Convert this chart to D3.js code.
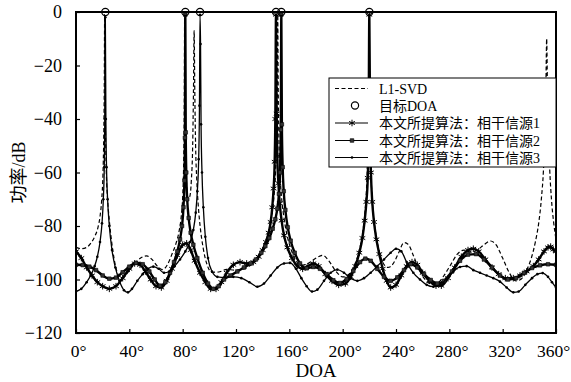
<!DOCTYPE html>
<html>
<head>
<meta charset="utf-8">
<script src="https://cdn.jsdelivr.net/npm/d3@7"></script>
<style>
  html, body { margin: 0; padding: 0; background: #fff; }
  svg { display: block; }
  text { font-family: "Liberation Serif", "Times New Roman", "Noto Sans CJK SC", serif; fill: #000; }
</style>
</head>
<body>
<svg id="chart" width="571" height="382"></svg>
<script>
// Spatial spectrum (dB) versus direction of arrival (degrees)
const xTicks = [0, 40, 80, 120, 160, 200, 240, 280, 320, 360];
const yTicks = [0, -20, -40, -60, -80, -100, -120];
const targetDoa = [22, 82, 93, 150, 154, 220];

const legendLabels = ["L1-SVD", "目标DOA", "本文所提算法：相干信源1", "本文所提算法：相干信源2", "本文所提算法：相干信源3"];

// L1-SVD spectrum [angle, dB]
const l1svd = [[0,-88],[4,-88.5],[8,-88],[11,-86.5],[14,-84],[16.5,-80.5],[18,-76.5],[19.3,-70],[20.2,-61],[20.8,-47],[21.2,-28],[21.5,-1],[21.8,-28],[22.2,-47],[22.8,-61],[23.7,-70],[25,-78],[26.5,-85],[28.5,-92],[31,-97.5],[34,-99.5],[37,-98.5],[41,-96],[45,-93.5],[49,-91.8],[53,-91.2],[57,-92.5],[61,-95],[65,-96.3],[68.5,-94.5],[72,-90.5],[75,-86.5],[77.3,-82],[79,-76],[80.1,-68],[80.8,-55],[81.2,-35],[81.5,-1],[81.8,-35],[82.2,-54],[82.9,-64],[84,-69.5],[85.3,-69],[86.5,-63],[87.5,-50],[88.1,-30],[88.6,-7],[89.1,-30],[89.7,-50],[90.6,-63],[91.8,-73],[93.3,-81],[95.3,-88],[98,-94],[102,-97.3],[107,-97.2],[113,-96.2],[119,-96.5],[125,-96.2],[130,-95],[135,-92.5],[139,-89.5],[142,-86],[144.5,-82],[146.6,-77],[148.3,-70],[149.6,-60],[150.5,-45],[151,-25],[151.3,-1],[151.6,-25],[152.1,-45],[153,-60],[154.3,-70],[156,-77],[158.3,-83.5],[161.5,-89],[165,-93],[169,-94.7],[174,-94],[179,-92.3],[185,-91],[190,-93.3],[195,-97],[200,-99],[204,-98.3],[207.5,-96],[210.5,-92.5],[213,-88],[215,-82.5],[216.6,-75.5],[217.9,-66],[218.8,-52],[219.4,-32],[219.8,-1],[220.2,-32],[220.8,-52],[221.7,-66],[223,-75.5],[224.7,-82.5],[227,-88.5],[230,-93.5],[234,-95.5],[238,-94],[242,-90],[246,-86.2],[249,-86.8],[253,-91],[257,-96],[261,-99.5],[266,-101.5],[271,-101.3],[276,-98.5],[281,-94.5],[286,-90.5],[291,-89],[296,-89.8],[301,-89],[306,-87],[311,-85.6],[315,-87],[320,-92],[325,-97.5],[330,-100.5],[334,-99.8],[338,-96.5],[341.5,-92],[344.5,-86],[347,-79],[349,-70],[350.6,-59],[351.7,-45],[352.5,-25],[353,-10],[353.5,-25],[354.3,-45],[355.3,-59],[356.6,-70],[358.2,-78.5],[360,-85]];

// Proposed method, coherent source group 1 [angle, dB]
const source1 = [[0,-89.5],[4,-92],[8,-95.5],[12,-98.5],[16,-101],[20,-102.5],[25,-103.5],[30,-102.5],[35,-99.5],[40,-96],[44,-94],[48,-94.5],[52,-97],[56,-100],[60,-102.5],[64,-103],[68,-100.5],[72,-96],[76,-91],[80,-87],[83,-86.5],[86,-89],[89,-93],[93,-97.5],[97,-101],[101,-103.5],[105,-103.5],[109,-101],[113,-97.5],[118,-94.5],[123,-93.5],[128,-94],[133,-93.5],[137,-91.5],[140,-89],[142.5,-86],[144.5,-82.5],[146,-78.5],[147.2,-73],[148.2,-66],[149,-56],[149.5,-40],[150,-1],[150.5,-38],[151,-54],[151.8,-64],[152.8,-71.5],[154.2,-78],[156,-83.5],[158.5,-88],[162,-92],[166,-95],[170,-96],[174,-95],[178,-94],[182,-95],[187,-98],[192,-100.5],[197,-102],[202,-101.5],[206,-99],[209.5,-95],[212.5,-90],[214.8,-84.5],[216.5,-78],[217.8,-71],[218.8,-62],[219.4,-48],[220,-1],[220.6,-45],[221.2,-60],[222.2,-71],[223.5,-78.5],[225.3,-85],[227.5,-90.5],[230,-96],[233,-100.5],[236,-103],[240,-102],[244,-98.5],[248,-95],[252,-93.5],[256,-94.5],[260,-97.5],[265,-100.5],[270,-102.3],[274,-102.3],[279,-99.5],[284,-95.5],[289,-91.5],[294,-89],[298,-88.5],[302,-89.5],[307,-92.5],[312,-95.5],[317,-98],[322,-99.5],[328,-99.5],[333,-98.5],[338,-97],[343,-95],[347,-92.5],[351,-89.5],[354,-88],[356,-87.7],[358,-88.8],[360,-89.5]];

// Proposed method, coherent source group 2 [angle, dB]
const source2 = [[0,-94.5],[5,-94.6],[10,-95.2],[15,-96.5],[20,-98.5],[25,-99.7],[30,-99.3],[35,-97.3],[40,-95.2],[45,-93.8],[50,-94.3],[55,-97],[59,-100],[63,-102.3],[67,-101],[70.5,-97.5],[73.5,-93.5],[76,-89.5],[78,-85],[79.5,-80],[80.6,-73],[81.3,-63],[81.7,-47],[82,-1],[82.3,-45],[82.7,-60],[83.4,-70],[84.5,-77],[86,-82.5],[88,-87],[91,-92],[95,-97.5],[99,-101.5],[103,-103.5],[107,-102.5],[111,-100],[116,-98.5],[121,-97],[126,-95.5],[131,-94],[135,-92.5],[139,-90],[142,-87.5],[145,-84.5],[147.5,-81],[149.5,-77.5],[151,-73.5],[152.2,-68],[153,-60],[153.6,-44],[154,-1],[154.4,-42],[155,-58],[155.8,-67],[157,-74],[158.8,-80.5],[161,-85.5],[164,-90],[168,-94],[173,-95.8],[178,-95.3],[183,-96],[188,-98],[193,-100.3],[198,-101.3],[203,-99.8],[208,-96.8],[213,-93.5],[217,-92.2],[221,-93],[226,-96],[231,-99],[236,-100.5],[241,-99.2],[246,-96.5],[251,-94.3],[256,-95.5],[261,-98],[266,-100.2],[271,-101.5],[276,-100.5],[282,-97],[288,-93],[294,-90.7],[300,-90.5],[306,-92.5],[312,-95.5],[318,-98.5],[324,-100],[330,-99.5],[336,-97.5],[342,-95.7],[348,-94.7],[354,-94.3],[360,-94.5]];

// Proposed method, coherent source group 3 [angle, dB]
const source3 = [[0,-104.5],[4,-103.5],[8,-101],[11,-98.5],[14,-95],[16,-91.5],[18,-86],[19.5,-79],[20.5,-70],[21.2,-58],[21.6,-40],[22,-2],[22.4,-40],[22.9,-58],[23.7,-70],[25,-80],[27,-89],[29.5,-95.5],[32.5,-100.5],[36,-104],[39,-104.8],[42,-103.5],[46,-100.5],[50,-98],[54,-96],[58,-95.2],[62,-96],[66,-97.5],[70,-97],[74,-95],[78,-92.5],[82,-89.5],[85.5,-86],[88,-81.5],[89.8,-75],[91,-67],[92,-55],[92.6,-35],[93,-1],[93.4,-12],[93.8,-42],[94.5,-60],[95.5,-73],[97,-84],[99,-92],[102,-97],[106,-99],[112,-99.2],[118,-99],[124,-99.5],[130,-101],[136,-102.7],[141,-101.5],[146,-98.5],[151,-95.5],[156,-94],[160.5,-93.8],[165,-96],[169,-99.5],[173,-102.5],[177,-104.5],[181,-103.8],[186,-100.5],[191,-97.5],[196,-96.3],[201,-97.5],[206,-99.5],[211,-100.5],[216,-99.5],[221,-97.5],[226,-95],[231,-92.5],[236,-90],[240,-88.5],[244,-89.5],[248,-93.5],[253,-97.5],[258,-100],[263,-102],[268,-102.7],[273,-102.2],[278,-99.5],[283,-97],[288,-95.3],[293,-95],[298,-96.5],[303,-97.5],[308,-98.5],[313,-99.5],[318,-100.8],[323,-103],[328,-104.8],[332,-104.5],[337,-102],[342,-99.5],[346,-98],[350,-97.6],[354,-99],[357,-101],[360,-103]];

const svg = d3.select("#chart");
const plot = { left: 76, right: 556, top: 12, bottom: 333 };

const x = d3.scaleLinear().domain([0, 360]).range([plot.left, plot.right]);
const y = d3.scaleLinear().domain([-120, 0]).range([plot.bottom, plot.top]);

svg.append("defs").append("clipPath").attr("id", "plotClip")
  .append("rect")
  .attr("x", plot.left).attr("y", plot.top - 6)
  .attr("width", plot.right - plot.left).attr("height", plot.bottom - plot.top + 6);

const line = d3.line().x(d => x(d[0])).y(d => y(d[1])).curve(d3.curveMonotoneX);

const layer = svg.append("g").attr("clip-path", "url(#plotClip)");

// L1-SVD dashed curve
layer.append("path").datum(l1svd)
  .attr("d", line).attr("fill", "none")
  .attr("stroke", "#000").attr("stroke-width", 1.2)
  .attr("stroke-dasharray", "4,2.5");

// proposed method curves with their markers
const starSym = d3.symbol().type(d3.symbolAsterisk).size(30);
const squareSym = d3.symbol().type(d3.symbolSquare).size(13);

function drawSeries(data, width, marker) {
  layer.append("path").datum(data)
    .attr("d", line).attr("fill", "none")
    .attr("stroke", "#000").attr("stroke-width", width)
    .attr("stroke-linejoin", "round");
  const g = layer.append("g");
  if (marker === "star") {
    g.selectAll("path").data(data).join("path")
      .attr("d", starSym)
      .attr("transform", d => `translate(${x(d[0])},${y(d[1])})`)
      .attr("fill", "none").attr("stroke", "#000").attr("stroke-width", 1);
  } else if (marker === "square") {
    g.selectAll("path").data(data).join("path")
      .attr("d", squareSym)
      .attr("transform", d => `translate(${x(d[0])},${y(d[1])})`)
      .attr("fill", "#333").attr("stroke", "#000").attr("stroke-width", 0.6);
  } else {
    g.selectAll("circle").data(data).join("circle")
      .attr("cx", d => x(d[0])).attr("cy", d => y(d[1])).attr("r", 1.3)
      .attr("fill", "#000");
  }
}
drawSeries(source1, 2.4, "star");
drawSeries(source2, 2.4, "square");
drawSeries(source3, 1.3, "dot");

// axes (ticks point inward)
const xAxis = d3.axisBottom(x).tickValues(xTicks).tickSize(-4).tickPadding(12)
  .tickFormat(d => d + "°");
const gx = svg.append("g").attr("transform", `translate(0,${plot.bottom})`).call(xAxis);
gx.select(".domain").remove();
gx.selectAll("line").attr("stroke", "#000").attr("stroke-width", 1.2);
gx.selectAll("text").attr("font-size", 17.5)
  .attr("dx", d => d === 360 ? -3 : 2)
  .style("font-family", '"Liberation Serif", "Times New Roman", serif');

const yAxis = d3.axisLeft(y).tickValues(yTicks).tickSize(-4).tickPadding(14)
  .tickFormat(d => d < 0 ? "\u2212" + Math.abs(d) : String(d));
const gy = svg.append("g").attr("transform", `translate(${plot.left},0)`).call(yAxis);
gy.select(".domain").remove();
gy.selectAll("line").attr("stroke", "#000").attr("stroke-width", 1.2);
gy.selectAll("text").attr("font-size", 18)
  .style("font-family", '"Liberation Serif", "Times New Roman", serif');

// frame
svg.append("rect")
  .attr("x", plot.left).attr("y", plot.top)
  .attr("width", plot.right - plot.left).attr("height", plot.bottom - plot.top)
  .attr("fill", "none").attr("stroke", "#000").attr("stroke-width", 2);

// target directions on the 0 dB line
svg.append("g").selectAll("circle").data(targetDoa).join("circle")
  .attr("cx", d => x(d)).attr("cy", y(0)).attr("r", 3.6)
  .attr("fill", "none").attr("stroke", "#000").attr("stroke-width", 1.2);

// axis titles
svg.append("text")
  .attr("x", (plot.left + plot.right) / 2).attr("y", 377)
  .attr("text-anchor", "middle").attr("font-size", 19)
  .text("DOA");

svg.append("text")
  .attr("transform", `translate(25,${(plot.top + plot.bottom) / 2}) rotate(-90)`)
  .attr("text-anchor", "middle").attr("font-size", 18)
  .style("font-family", '"Liberation Serif", "Noto Sans CJK SC", serif')
  .text("功率/dB");

// legend
const lg = svg.append("g");
const lgBox = { x: 329, y: 78, w: 227, h: 89 };
lg.append("rect")
  .attr("x", lgBox.x).attr("y", lgBox.y).attr("width", lgBox.w).attr("height", lgBox.h)
  .attr("fill", "#fff").attr("stroke", "#000").attr("stroke-width", 1);

const rowY = [88.5, 105.5, 123, 140.5, 157.5];
const sx0 = 335, sx1 = 368, sxm = 352;

lg.append("line").attr("x1", sx0).attr("x2", sx1).attr("y1", rowY[0]).attr("y2", rowY[0])
  .attr("stroke", "#000").attr("stroke-width", 1.2).attr("stroke-dasharray", "4,2.5");
lg.append("circle").attr("cx", sxm + 3).attr("cy", rowY[1]).attr("r", 3.6)
  .attr("fill", "none").attr("stroke", "#000").attr("stroke-width", 1.2);
[2, 3, 4].forEach(i => {
  lg.append("line").attr("x1", sx0).attr("x2", sx1).attr("y1", rowY[i]).attr("y2", rowY[i])
    .attr("stroke", "#000").attr("stroke-width", 1.2);
});
lg.append("path").attr("d", starSym).attr("transform", `translate(${sxm},${rowY[2]})`)
  .attr("fill", "none").attr("stroke", "#000").attr("stroke-width", 1);
lg.append("path").attr("d", squareSym).attr("transform", `translate(${sxm},${rowY[3]})`)
  .attr("fill", "#333").attr("stroke", "#000").attr("stroke-width", 0.6);
lg.append("circle").attr("cx", sxm).attr("cy", rowY[4]).attr("r", 1.3).attr("fill", "#000");

lg.selectAll("text.lbl").data(legendLabels).join("text")
  .attr("class", "lbl")
  .attr("x", 379).attr("y", (d, i) => rowY[i]).attr("dy", "0.36em")
  .attr("font-size", 14)
  .style("font-family", '"Liberation Serif", "Noto Sans CJK SC", serif')
  .text(d => d);
</script>
</body>
</html>
